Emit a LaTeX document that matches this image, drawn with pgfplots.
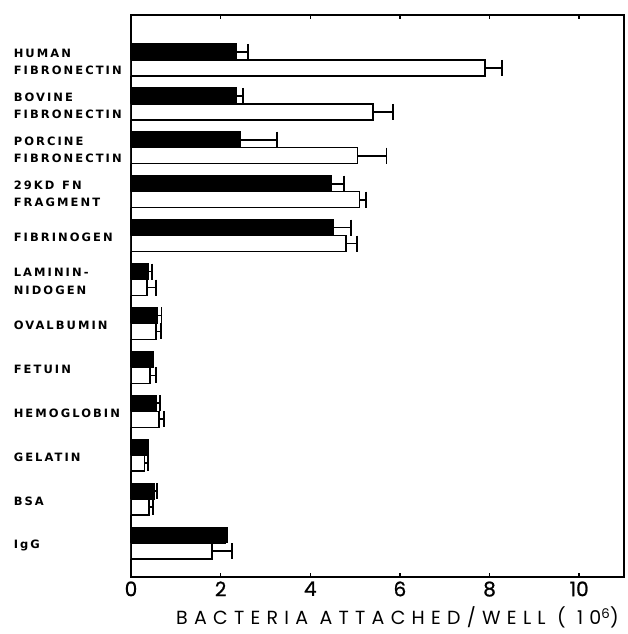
\documentclass[border=0pt]{standalone}
\usepackage{pgfplots}
\pgfplotsset{compat=1.18}
\usepackage{fontspec}
\setmainfont{Liberation Sans}
\newfontfamily\catfont[LetterSpace=18]{DejaVu Sans}
\newfontfamily\numfont[FakeBold=1]{Poppins}
\newfontfamily\labfont[LetterSpace=33]{Poppins}
\usetikzlibrary{calc}

% pos: 11 = top row; black = filled bars, white = open bars; *err = + error
\pgfplotstableread{
pos  black berr  white werr
11   2.35  0.27  7.90  0.38
10   2.35  0.15  5.40  0.45
9    2.45  0.80  5.05  0.65
8    4.48  0.27  5.10  0.15
7    4.52  0.38  4.80  0.25
6    0.38  0.09  0.36  0.20
5    0.58  0.10  0.56  0.10
4    0.49  0.01  0.42  0.14
3    0.56  0.09  0.63  0.10
2    0.38  0.01  0.30  0.07
1    0.51  0.08  0.40  0.09
0    2.10  0.04  1.81  0.45
}\attach

\begin{document}
\begin{tikzpicture}
\begin{axis}[
  scale only axis,
  width=493pt, height=562pt,
  xmin=0, xmax=11, ymin=-0.77, ymax=12.02,
  axis line style={line width=1.7pt},
  xtick={0,2,...,10},
  tick pos=both,
  tick align=inside,
  major tick length=4pt,
  every tick/.style={black, line width=1.4pt},
  ytick={0,...,11},
  yticklabels={IgG, BSA, GELATIN, HEMOGLOBIN, FETUIN, OVALBUMIN,
    {LAMININ-\\NIDOGEN}, FIBRINOGEN, {29KD\ \ FN\\FRAGMENT},
    {PORCINE\\FIBRONECTIN}, {BOVINE\\FIBRONECTIN}, {HUMAN\\FIBRONECTIN}},
  y tick style={draw=none},
  yticklabel style={text width=112pt, align=left, inner sep=0pt,
    anchor=east, xshift=-1pt, yshift=-2pt,
    font=\catfont\bfseries\fontsize{11.5}{17.5}\selectfont},
  /pgf/number format/assume math mode=true,
  xticklabel style={font=\numfont\fontsize{20}{20}\selectfont, yshift=-1pt},
  xlabel={BACTERIA ATTACHED/WELL ( 10\textsuperscript{6})},
  xlabel style={font=\labfont\fontsize{19}{19}\selectfont, xshift=20pt, yshift=-3pt},
  xbar, bar width=16pt,
  error bars/x dir=plus, error bars/x explicit,
  error bars/error bar style={line width=1.8pt},
  error bars/error mark options={line width=1.9pt, mark size=8pt, rotate=90},
]
\addplot[fill=black, draw=black, line width=1.3pt, bar shift=8pt]
  table[x=black, y=pos, x error=berr] {\attach};
\addplot[fill=white, draw=black, line width=1.6pt, bar shift=-8pt]
  table[x=white, y=pos, x error=werr] {\attach};
\end{axis}
\path ($(current axis.south west)+(-131pt,-57pt)$) rectangle ($(current axis.north east)+(2pt,15pt)$);
\end{tikzpicture}
\end{document}
